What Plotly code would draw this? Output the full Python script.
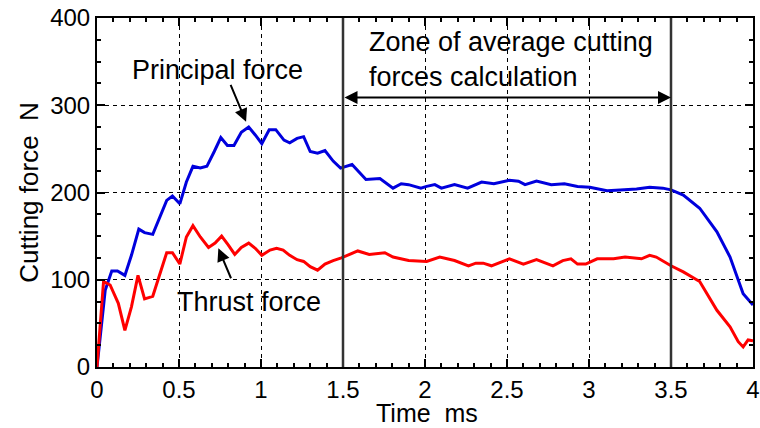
import plotly.graph_objects as go

# Principal force (blue)
t_principal = [0.0, 0.05, 0.09, 0.125, 0.17, 0.21, 0.255, 0.29, 0.34, 0.385, 0.425, 0.46, 0.505, 0.545,
               0.585, 0.63, 0.67, 0.715, 0.755, 0.795, 0.835, 0.88, 0.925, 0.965, 1.005, 1.05, 1.09, 1.14,
               1.175, 1.22, 1.26, 1.30, 1.345, 1.39, 1.44, 1.485, 1.555, 1.64, 1.725, 1.805, 1.855, 1.90,
               1.975, 2.01, 2.06, 2.10, 2.18, 2.26, 2.345, 2.42, 2.515, 2.57, 2.61, 2.68, 2.77, 2.85,
               2.93, 3.005, 3.11, 3.19, 3.29, 3.37, 3.45, 3.50, 3.575, 3.675, 3.78, 3.86, 3.94, 4.0]
f_principal = [0, 88, 110, 110, 105, 128, 158, 154, 152, 172, 191, 196, 187, 212,
               230, 228, 230, 247, 263, 254, 254, 269, 275, 266, 256, 272, 272, 260,
               257, 262, 264, 247, 245, 248, 236, 228, 232, 215, 216, 205, 210, 209,
               205, 207, 209, 205, 209, 205, 212, 210, 214, 213, 209, 213, 209, 210,
               207, 206, 202, 203, 204, 206, 205, 203, 197, 182, 155, 126, 84, 71]

# Thrust force (red)
t_thrust = [0.0, 0.04, 0.08, 0.13, 0.17, 0.21, 0.25, 0.29, 0.34, 0.385, 0.425, 0.46, 0.505, 0.545,
            0.585, 0.63, 0.68, 0.72, 0.76, 0.80, 0.84, 0.88, 0.925, 0.965, 1.005, 1.055, 1.095, 1.135,
            1.175, 1.22, 1.26, 1.30, 1.345, 1.39, 1.44, 1.49, 1.59, 1.66, 1.755, 1.805, 1.90, 2.01,
            2.09, 2.18, 2.265, 2.31, 2.355, 2.405, 2.515, 2.60, 2.68, 2.78, 2.84, 2.89, 2.93, 2.98,
            3.05, 3.15, 3.22, 3.32, 3.37, 3.41, 3.50, 3.575, 3.675, 3.78, 3.86, 3.91, 3.94, 3.97, 4.0]
f_thrust = [0, 98, 94, 73, 42, 69, 105, 78, 81, 107, 131, 131, 118, 149,
            162, 149, 137, 142, 150, 140, 129, 137, 142, 136, 128, 134, 136, 134,
            128, 123, 121, 115, 111, 118, 122, 125, 133, 129, 131, 126, 122, 121,
            126, 122, 116, 119, 119, 116, 124, 118, 123, 116, 122, 124, 118, 118,
            124, 124, 126, 124, 128, 126, 116, 109, 98, 65, 46, 29, 23, 31, 30]

zone_bounds = [1.5, 3.5]
x_title = "Time\u00a0\u00a0ms"
y_title = "Cutting force\u00a0\u00a0N"

FONT = "Arial, Liberation Sans, sans-serif"
FS = 24
FA = 27

fig = go.Figure()
fig.add_trace(go.Scatter(x=t_principal, y=f_principal, mode="lines",
                         line=dict(color="#0000dd", width=3), showlegend=False))
fig.add_trace(go.Scatter(x=t_thrust, y=f_thrust, mode="lines",
                         line=dict(color="#ff0000", width=3), showlegend=False))

for xb in zone_bounds:
    fig.add_shape(type="line", x0=xb, x1=xb, y0=0, y1=400, xref="x", yref="y",
                  line=dict(color="#333333", width=2.5))

# double arrow
fig.add_annotation(x=3.5, y=309, ax=1.5, ay=309, xref="x", yref="y", axref="x", ayref="y",
                   text="", showarrow=True, arrowhead=2, startarrowhead=2, arrowside="end+start",
                   arrowsize=1.3, startarrowsize=1.3, arrowwidth=2, arrowcolor="black")
fig.add_annotation(x=1.645, y=353, xref="x", yref="y", xanchor="left", yanchor="middle",
                   text="Zone of average cutting<br>forces calculation", align="left",
                   showarrow=False, font=dict(family=FONT, size=FA, color="black"))

fig.add_annotation(x=0.732, y=340, xref="x", yref="y", text="Principal force", showarrow=False,
                   font=dict(family=FONT, size=FA, color="black"))
fig.add_annotation(x=0.909, y=281, ax=0.811, ay=325, xref="x", yref="y", axref="x", ayref="y",
                   text="", showarrow=True, arrowhead=2, arrowsize=1.3, arrowwidth=2, arrowcolor="black")

fig.add_annotation(x=0.927, y=75, xref="x", yref="y", text="Thrust force", showarrow=False,
                   font=dict(family=FONT, size=FA, color="black"))
fig.add_annotation(x=0.74, y=136, ax=0.821, ay=100, xref="x", yref="y", axref="x", ayref="y",
                   text="", showarrow=True, arrowhead=2, arrowsize=1.3, arrowwidth=2, arrowcolor="black")

# x-axis title placed below tick labels
fig.add_annotation(x=0.503, y=-0.1748, xref="paper", yref="paper", xanchor="center", yanchor="bottom",
                   text=x_title, showarrow=False, borderpad=0,
                   font=dict(family=FONT, size=25, color="black"))

axis_common = dict(showline=True, linecolor="black", linewidth=2, mirror="ticks",
                   ticks="inside", ticklen=8, tickwidth=1.5, tickcolor="black",
                   showgrid=True, gridcolor="black", gridwidth=1, griddash="4px,4px",
                   zeroline=False, automargin=False, ticklabeloverflow="allow",
                   tickfont=dict(family=FONT, size=FS, color="black"))

fig.update_xaxes(range=[0, 4], dtick=0.5, tick0=0,
                 minor=dict(ticks="inside", dtick=0.1, ticklen=4, tickcolor="black", showgrid=False),
                 **axis_common)
fig.update_yaxes(range=[0, 400], dtick=100, tick0=0,
                 minor=dict(ticks="inside", dtick=25, ticklen=4, tickcolor="black", showgrid=False),
                 title=dict(text=y_title, font=dict(family=FONT, size=26, color="black"), standoff=4),
                 **axis_common)

fig.update_layout(width=760, height=428, margin=dict(l=97, r=7, t=18, b=61),
                  paper_bgcolor="white", plot_bgcolor="white",
                  font=dict(family=FONT, size=FS, color="black"))

fig.write_html("out.html")
